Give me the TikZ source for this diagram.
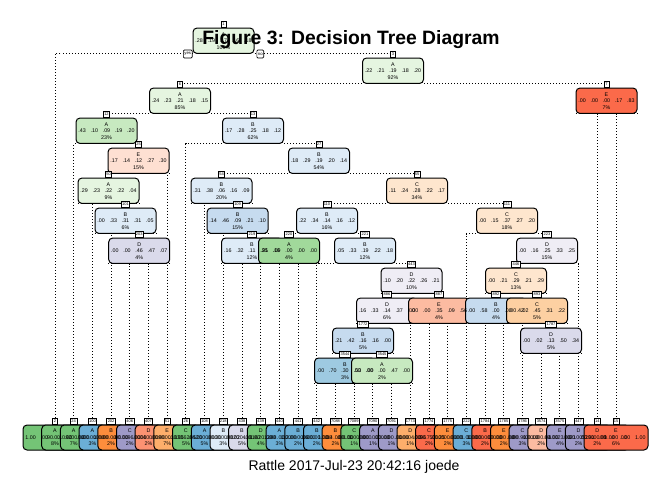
\documentclass[tikz,border=0pt]{standalone}
\usepackage{fontspec}
\setmainfont{Liberation Sans}
\usetikzlibrary{positioning}
\definecolor{gA0}{HTML}{E5F5E0}
\definecolor{gA1}{HTML}{C7E9C0}
\definecolor{gA2}{HTML}{A1D99B}
\definecolor{gA3}{HTML}{74C476}
\definecolor{bB0}{HTML}{DEEBF7}
\definecolor{bB1}{HTML}{C6DBEF}
\definecolor{bB2}{HTML}{9ECAE1}
\definecolor{bB3}{HTML}{6BAED6}
\definecolor{oC0}{HTML}{FEE6CE}
\definecolor{oC1}{HTML}{FDD0A2}
\definecolor{oC2}{HTML}{FDAE6B}
\definecolor{oC3}{HTML}{FD8D3C}
\definecolor{pD0}{HTML}{EFEDF5}
\definecolor{pD1}{HTML}{DADAEB}
\definecolor{pD3}{HTML}{9E9AC8}
\definecolor{rE0}{HTML}{FEE0D2}
\definecolor{rE1}{HTML}{FCBBA1}
\definecolor{rE2}{HTML}{FC9272}
\definecolor{rE3}{HTML}{FB6A4A}
\pgfdeclarelayer{bg}
\pgfsetlayers{bg,main}
\tikzstyle{fBox} = [rectangle, rounded corners=3pt, draw=black, line width=0.75pt, minimum width=45.75pt, minimum height=19.1pt, inner sep=0pt]
\tikzstyle{fLeaf} = [fBox, minimum width=48pt, minimum height=18.75pt]
\tikzstyle{fTab} = [rectangle, draw=black, fill=white, line width=0.5pt, inner sep=0.7pt, minimum height=4.5pt, minimum width=4pt, font=\fontsize{3}{3}\selectfont]
\tikzstyle{fText} = [align=center, inner sep=0pt, font=\fontsize{4}{4.9}\selectfont]
\tikzstyle{fYesNo} = [rectangle, rounded corners=0.8pt, draw=black, fill=white, line width=0.5pt, inner sep=0.8pt, minimum height=6pt, font=\fontsize{3.2}{3.2}\selectfont]
\tikzstyle{fBranch} = [line width=0.75pt, dash pattern=on 0.75pt off 1.5pt]
\newcommand{\probs}[5]{#1\hspace{3.6pt}#2\hspace{3.6pt}#3\hspace{3.6pt}#4\hspace{3.6pt}#5}

\begin{document}
\begin{tikzpicture}[x=0.75pt, y=-0.75pt]
    \useasboundingbox (0,0) rectangle (672,480);

    % split nodes, one row per depth
    \node (n1) [fBox, fill=gA0] at (223.5,40.75) {};
    \node (t1) [fTab, above=0pt of n1] {1};
    \node (n3) [fBox, fill=gA0] at (393,70.75) {};
    \node (t3) [fTab, above=0pt of n3] {3};
    \node (n6) [fBox, fill=gA0] at (180,100.75) {};
    \node (t6) [fTab, above=0pt of n6] {6};
    \node (n7) [fBox, fill=rE3] at (606.5,100.75) {};
    \node (t7) [fTab, above=0pt of n7] {7};
    \node (n12) [fBox, fill=gA1] at (106.5,130.75) {};
    \node (t12) [fTab, above=0pt of n12] {12};
    \node (n13) [fBox, fill=bB0] at (253,130.75) {};
    \node (t13) [fTab, above=0pt of n13] {13};
    \node (n25) [fBox, fill=rE0] at (138.5,160.75) {};
    \node (t25) [fTab, above=0pt of n25] {25};
    \node (n27) [fBox, fill=bB0] at (319,160.75) {};
    \node (t27) [fTab, above=0pt of n27] {27};
    \node (n50) [fBox, fill=gA0] at (108.5,190.75) {};
    \node (t50) [fTab, above=0pt of n50] {50};
    \node (n54) [fBox, fill=bB0] at (221.5,190.75) {};
    \node (t54) [fTab, above=0pt of n54] {54};
    \node (n55) [fBox, fill=oC0] at (417,190.75) {};
    \node (t55) [fTab, above=0pt of n55] {55};
    \node (n101) [fBox, fill=bB0] at (125.5,220.75) {};
    \node (t101) [fTab, above=0pt of n101] {101};
    \node (n109) [fBox, fill=bB1] at (237.6,220.75) {};
    \node (t109) [fTab, above=0pt of n109] {109};
    \node (n110) [fBox, fill=bB0] at (327,220.75) {};
    \node (t110) [fTab, above=0pt of n110] {110};
    \node (n111) [fBox, fill=oC0] at (507,220.75) {};
    \node (t111) [fTab, above=0pt of n111] {111};
    \node (n203) [fBox, fill=pD1] at (139.2,250.75) {};
    \node (t203) [fTab, above=0pt of n203] {203};
    \node (n219) [fBox, fill=bB0] at (252,250.75) {};
    \node (t219) [fTab, above=0pt of n219] {219};
    \node (n220) [fBox, fill=gA2] at (289,250.75) {};
    \node (t220) [fTab, above=0pt of n220] {220};
    \node (n221) [fBox, fill=bB0] at (365,250.75) {};
    \node (t221) [fTab, above=0pt of n221] {221};
    \node (n223) [fBox, fill=pD0] at (547,250.75) {};
    \node (t223) [fTab, above=0pt of n223] {223};
    \node (n443) [fBox, fill=pD0] at (411.5,280.75) {};
    \node (t443) [fTab, above=0pt of n443] {443};
    \node (n446) [fBox, fill=oC0] at (516,280.75) {};
    \node (t446) [fTab, above=0pt of n446] {446};
    \node (n886) [fBox, fill=pD0] at (387,310.75) {};
    \node (t886) [fTab, above=0pt of n886] {886};
    \node (n887) [fBox, fill=rE1] at (439,310.75) {};
    \node (t887) [fTab, above=0pt of n887] {887};
    \node (n892) [fBox, fill=bB1] at (496,310.75) {};
    \node (t892) [fTab, above=0pt of n892] {892};
    \node (n893) [fBox, fill=oC1] at (537,310.75) {};
    \node (t893) [fTab, above=0pt of n893] {893};
    \node (n1772) [fBox, fill=bB1] at (363,340.75) {};
    \node (t1772) [fTab, above=0pt of n1772] {1772};
    \node (n1787) [fBox, fill=pD1] at (551,340.75) {};
    \node (t1787) [fTab, above=0pt of n1787] {1787};
    \node (n3544) [fBox, fill=bB2] at (345,370.75) {};
    \node (t3544) [fTab, above=0pt of n3544] {3544};
    \node (n3545) [fBox, fill=gA1] at (382,370.75) {};
    \node (t3545) [fTab, above=0pt of n3545] {3545};

    % leaves, left to right
    \node (n2) [fLeaf, fill=gA3] at (55,437.5) {};
    \node (t2) [fTab, above=0pt of n2] {2};
    \node (n24) [fLeaf, fill=gA3] at (73.7,437.5) {};
    \node (t24) [fTab, above=0pt of n24] {24};
    \node (n100) [fLeaf, fill=gA3] at (92.4,437.5) {};
    \node (t100) [fTab, above=0pt of n100] {100};
    \node (n202) [fLeaf, fill=bB3] at (111.1,437.5) {};
    \node (t202) [fTab, above=0pt of n202] {202};
    \node (n406) [fLeaf, fill=oC3] at (129.8,437.5) {};
    \node (t406) [fTab, above=0pt of n406] {406};
    \node (n407) [fLeaf, fill=pD3] at (148.5,437.5) {};
    \node (t407) [fTab, above=0pt of n407] {407};
    \node (n51) [fLeaf, fill=rE2] at (167.2,437.5) {};
    \node (t51) [fTab, above=0pt of n51] {51};
    \node (n26) [fLeaf, fill=oC2] at (185.9,437.5) {};
    \node (t26) [fTab, above=0pt of n26] {26};
    \node (n108) [fLeaf, fill=gA3] at (204.6,437.5) {};
    \node (t108) [fTab, above=0pt of n108] {108};
    \node (n218) [fLeaf, fill=bB3] at (223.3,437.5) {};
    \node (t218) [fTab, above=0pt of n218] {218};
    \node (n438) [fLeaf, fill=bB0] at (242,437.5) {};
    \node (t438) [fTab, above=0pt of n438] {438};
    \node (n439) [fLeaf, fill=pD1] at (260.7,437.5) {};
    \node (t439) [fTab, above=0pt of n439] {439};
    \node (n440) [fLeaf, fill=gA3] at (279.4,437.5) {};
    \node (t440) [fTab, above=0pt of n440] {440};
    \node (n441) [fLeaf, fill=bB3] at (298.1,437.5) {};
    \node (t441) [fTab, above=0pt of n441] {441};
    \node (n442) [fLeaf, fill=bB3] at (316.8,437.5) {};
    \node (t442) [fTab, above=0pt of n442] {442};
    \node (n7088) [fLeaf, fill=bB3] at (335.5,437.5) {};
    \node (t7088) [fTab, above=0pt of n7088] {7088};
    \node (n7089) [fLeaf, fill=oC3] at (354.2,437.5) {};
    \node (t7089) [fTab, above=0pt of n7089] {7089};
    \node (n7090) [fLeaf, fill=gA3] at (372.9,437.5) {};
    \node (t7090) [fTab, above=0pt of n7090] {7090};
    \node (n7091) [fLeaf, fill=pD3] at (391.6,437.5) {};
    \node (t7091) [fTab, above=0pt of n7091] {7091};
    \node (n1773) [fLeaf, fill=pD3] at (410.3,437.5) {};
    \node (t1773) [fTab, above=0pt of n1773] {1773};
    \node (n1774) [fLeaf, fill=oC2] at (429,437.5) {};
    \node (t1774) [fTab, above=0pt of n1774] {1774};
    \node (n1775) [fLeaf, fill=rE3] at (447.7,437.5) {};
    \node (t1775) [fTab, above=0pt of n1775] {1775};
    \node (n222) [fLeaf, fill=oC3] at (466.4,437.5) {};
    \node (t222) [fTab, above=0pt of n222] {222};
    \node (n1784) [fLeaf, fill=bB3] at (485.1,437.5) {};
    \node (t1784) [fTab, above=0pt of n1784] {1784};
    \node (n1785) [fLeaf, fill=rE3] at (503.8,437.5) {};
    \node (t1785) [fTab, above=0pt of n1785] {1785};
    \node (n1786) [fLeaf, fill=oC3] at (522.5,437.5) {};
    \node (t1786) [fTab, above=0pt of n1786] {1786};
    \node (n3574) [fLeaf, fill=pD3] at (541.2,437.5) {};
    \node (t3574) [fTab, above=0pt of n3574] {3574};
    \node (n3575) [fLeaf, fill=rE1] at (559.9,437.5) {};
    \node (t3575) [fTab, above=0pt of n3575] {3575};
    \node (n447) [fLeaf, fill=pD3] at (578.6,437.5) {};
    \node (t447) [fTab, above=0pt of n447] {447};
    \node (n14) [fLeaf, fill=pD3] at (597.3,437.5) {};
    \node (t14) [fTab, above=0pt of n14] {14};
    \node (n15) [fLeaf, fill=rE3] at (616,437.5) {};
    \node (t15) [fTab, above=0pt of n15] {15};

    % branches behind the boxes
    \begin{pgfonlayer}{bg}
    \fill [white] (0,0) rectangle (672,480);
    \draw [fBranch] (n1.south west) -| (t2.north);
    \draw [fBranch] (n1.south east) -| (t3.north);
    \draw [fBranch] (n3.south west) -| (t6.north);
    \draw [fBranch] (n3.south east) -| (t7.north);
    \draw [fBranch] (n6.south west) -| (t12.north);
    \draw [fBranch] (n6.south east) -| (t13.north);
    \draw [fBranch] (n7.south west) -| (t14.north);
    \draw [fBranch] (n7.south east) -| (t15.north);
    \draw [fBranch] (n12.south west) -| (t24.north);
    \draw [fBranch] (n12.south east) -| (t25.north);
    \draw [fBranch] (n13.south west) -| (t26.north);
    \draw [fBranch] (n13.south east) -| (t27.north);
    \draw [fBranch] (n25.south west) -| (t50.north);
    \draw [fBranch] (n25.south east) -| (t51.north);
    \draw [fBranch] (n27.south west) -| (t54.north);
    \draw [fBranch] (n27.south east) -| (t55.north);
    \draw [fBranch] (n50.south west) -| (t100.north);
    \draw [fBranch] (n50.south east) -| (t101.north);
    \draw [fBranch] (n54.south west) -| (t108.north);
    \draw [fBranch] (n54.south east) -| (t109.north);
    \draw [fBranch] (n55.south west) -| (t110.north);
    \draw [fBranch] (n55.south east) -| (t111.north);
    \draw [fBranch] (n101.south west) -| (t202.north);
    \draw [fBranch] (n101.south east) -| (t203.north);
    \draw [fBranch] (n109.south west) -| (t218.north);
    \draw [fBranch] (n109.south east) -| (t219.north);
    \draw [fBranch] (n110.south west) -| (t220.north);
    \draw [fBranch] (n110.south east) -| (t221.north);
    \draw [fBranch] (n111.south west) -| (t222.north);
    \draw [fBranch] (n111.south east) -| (t223.north);
    \draw [fBranch] (n203.south west) -| (t406.north);
    \draw [fBranch] (n203.south east) -| (t407.north);
    \draw [fBranch] (n219.south west) -| (t438.north);
    \draw [fBranch] (n219.south east) -| (t439.north);
    \draw [fBranch] (n220.south west) -| (t440.north);
    \draw [fBranch] (n220.south east) -| (t441.north);
    \draw [fBranch] (n221.south west) -| (t442.north);
    \draw [fBranch] (n221.south east) -| (t443.north);
    \draw [fBranch] (n223.south west) -| (t446.north);
    \draw [fBranch] (n223.south east) -| (t447.north);
    \draw [fBranch] (n443.south west) -| (t886.north);
    \draw [fBranch] (n443.south east) -| (t887.north);
    \draw [fBranch] (n446.south west) -| (t892.north);
    \draw [fBranch] (n446.south east) -| (t893.north);
    \draw [fBranch] (n886.south west) -| (t1772.north);
    \draw [fBranch] (n886.south east) -| (t1773.north);
    \draw [fBranch] (n887.south west) -| (t1774.north);
    \draw [fBranch] (n887.south east) -| (t1775.north);
    \draw [fBranch] (n892.south west) -| (t1784.north);
    \draw [fBranch] (n892.south east) -| (t1785.north);
    \draw [fBranch] (n893.south west) -| (t1786.north);
    \draw [fBranch] (n893.south east) -| (t1787.north);
    \draw [fBranch] (n1772.south west) -| (t3544.north);
    \draw [fBranch] (n1772.south east) -| (t3545.north);
    \draw [fBranch] (n1787.south west) -| (t3574.north);
    \draw [fBranch] (n1787.south east) -| (t3575.north);
    \draw [fBranch] (n3544.south west) -| (t7088.north);
    \draw [fBranch] (n3544.south east) -| (t7089.north);
    \draw [fBranch] (n3545.south west) -| (t7090.north);
    \draw [fBranch] (n3545.south east) -| (t7091.north);
    \end{pgfonlayer}

    \node (yes) [fYesNo, left=0pt of n1.south west] {yes};
    \node (no) [fYesNo, right=1.5pt of n1.south east] {no};

    % texts go on top of all boxes
    \node [fText] at (n1) {A\\\probs{.28}{.19}{.17}{.16}{.18}\\100\%};
    \node [fText] at (n3) {A\\\probs{.22}{.21}{.19}{.18}{.20}\\92\%};
    \node [fText] at (n6) {A\\\probs{.24}{.23}{.21}{.18}{.15}\\85\%};
    \node [fText] at (n7) {E\\\probs{.00}{.00}{.00}{.17}{.83}\\7\%};
    \node [fText] at (n12) {A\\\probs{.43}{.10}{.09}{.19}{.20}\\23\%};
    \node [fText] at (n13) {B\\\probs{.17}{.28}{.25}{.18}{.12}\\62\%};
    \node [fText] at (n25) {E\\\probs{.17}{.14}{.12}{.27}{.30}\\15\%};
    \node [fText] at (n27) {B\\\probs{.18}{.29}{.19}{.20}{.14}\\54\%};
    \node [fText] at (n50) {A\\\probs{.29}{.23}{.22}{.22}{.04}\\9\%};
    \node [fText] at (n54) {B\\\probs{.31}{.38}{.06}{.16}{.09}\\20\%};
    \node [fText] at (n55) {C\\\probs{.11}{.24}{.28}{.22}{.17}\\34\%};
    \node [fText] at (n101) {B\\\probs{.00}{.33}{.31}{.31}{.05}\\6\%};
    \node [fText] at (n109) {B\\\probs{.14}{.46}{.09}{.21}{.10}\\15\%};
    \node [fText] at (n110) {B\\\probs{.22}{.34}{.14}{.16}{.12}\\16\%};
    \node [fText] at (n111) {C\\\probs{.00}{.15}{.37}{.27}{.20}\\18\%};
    \node [fText] at (n203) {D\\\probs{.00}{.00}{.46}{.47}{.07}\\4\%};
    \node [fText] at (n219) {B\\\probs{.16}{.32}{.11}{.25}{.16}\\12\%};
    \node [fText] at (n220) {A\\\probs{.91}{.09}{.00}{.00}{.00}\\4\%};
    \node [fText] at (n221) {B\\\probs{.05}{.33}{.19}{.22}{.18}\\12\%};
    \node [fText] at (n223) {D\\\probs{.00}{.16}{.25}{.33}{.25}\\15\%};
    \node [fText] at (n443) {D\\\probs{.10}{.20}{.22}{.26}{.21}\\10\%};
    \node [fText] at (n446) {C\\\probs{.00}{.21}{.29}{.21}{.29}\\13\%};
    \node [fText] at (n886) {D\\\probs{.16}{.33}{.14}{.37}{.00}\\6\%};
    \node [fText] at (n887) {E\\\probs{.00}{.00}{.35}{.09}{.56}\\4\%};
    \node [fText] at (n892) {B\\\probs{.00}{.58}{.00}{.00}{.42}\\4\%};
    \node [fText] at (n893) {C\\\probs{.00}{.02}{.45}{.31}{.22}\\5\%};
    \node [fText] at (n1772) {B\\\probs{.21}{.42}{.16}{.16}{.00}\\5\%};
    \node [fText] at (n1787) {D\\\probs{.00}{.02}{.13}{.50}{.34}\\5\%};
    \node [fText] at (n3544) {B\\\probs{.00}{.70}{.30}{.00}{.00}\\3\%};
    \node [fText] at (n3545) {A\\\probs{.53}{.00}{.00}{.47}{.00}\\2\%};

    \node [fText] at (n2) {A\\\probs{1.00}{.00}{.00}{.00}{.00}\\8\%};
    \node [fText] at (n24) {A\\\probs{.90}{.10}{.00}{.00}{.00}\\7\%};
    \node [fText] at (n100) {A\\\probs{.92}{.08}{.00}{.00}{.00}\\3\%};
    \node [fText] at (n202) {B\\\probs{.00}{1.00}{.00}{.00}{.00}\\2\%};
    \node [fText] at (n406) {C\\\probs{.00}{.00}{.96}{.04}{.00}\\2\%};
    \node [fText] at (n407) {D\\\probs{.00}{.00}{.00}{.90}{.10}\\2\%};
    \node [fText] at (n51) {E\\\probs{.03}{.00}{.00}{.33}{.64}\\7\%};
    \node [fText] at (n26) {C\\\probs{.00}{.18}{.62}{.20}{.00}\\5\%};
    \node [fText] at (n108) {A\\\probs{.95}{.05}{.00}{.00}{.00}\\5\%};
    \node [fText] at (n218) {B\\\probs{.00}{.80}{.00}{.20}{.00}\\3\%};
    \node [fText] at (n438) {B\\\probs{.30}{.38}{.04}{.16}{.12}\\5\%};
    \node [fText] at (n439) {D\\\probs{.02}{.18}{.20}{.48}{.12}\\4\%};
    \node [fText] at (n440) {A\\\probs{1.00}{.00}{.00}{.00}{.00}\\3\%};
    \node [fText] at (n441) {B\\\probs{.00}{1.00}{.00}{.00}{.00}\\2\%};
    \node [fText] at (n442) {B\\\probs{.00}{.86}{.00}{.14}{.00}\\2\%};
    \node [fText] at (n7088) {B\\\probs{.00}{1.00}{.00}{.00}{.00}\\2\%};
    \node [fText] at (n7089) {C\\\probs{.00}{.00}{1.00}{.00}{.00}\\1\%};
    \node [fText] at (n7090) {A\\\probs{1.00}{.00}{.00}{.00}{.00}\\1\%};
    \node [fText] at (n7091) {D\\\probs{.00}{.00}{.00}{1.00}{.00}\\1\%};
    \node [fText] at (n1773) {D\\\probs{.00}{.00}{.04}{.96}{.00}\\1\%};
    \node [fText] at (n1774) {C\\\probs{.00}{.00}{.75}{.25}{.00}\\2\%};
    \node [fText] at (n1775) {E\\\probs{.00}{.00}{.00}{.00}{1.00}\\2\%};
    \node [fText] at (n222) {C\\\probs{.00}{.00}{1.00}{.00}{.00}\\3\%};
    \node [fText] at (n1784) {B\\\probs{.00}{1.00}{.00}{.00}{.00}\\2\%};
    \node [fText] at (n1785) {E\\\probs{.00}{.00}{.00}{.00}{1.00}\\2\%};
    \node [fText] at (n1786) {C\\\probs{.00}{.00}{.90}{.10}{.00}\\3\%};
    \node [fText] at (n3574) {D\\\probs{.00}{.00}{.00}{1.00}{.00}\\2\%};
    \node [fText] at (n3575) {E\\\probs{.00}{.04}{.23}{.21}{.52}\\4\%};
    \node [fText] at (n447) {D\\\probs{.00}{.00}{.00}{.91}{.09}\\2\%};
    \node [fText] at (n14) {D\\\probs{.00}{.00}{.00}{1.00}{.00}\\2\%};
    \node [fText] at (n15) {E\\\probs{.00}{.00}{.00}{.00}{1.00}\\6\%};

    \node (title) [font=\fontsize{14.5}{16}\selectfont\bfseries] at (351,40) {Figure 3: Decision Tree Diagram};
    \node (rattle) [font=\fontsize{10.5}{12}\selectfont] at (354,467) {Rattle 2017-Jul-23 20:42:16 joede};
\end{tikzpicture}
\end{document}
